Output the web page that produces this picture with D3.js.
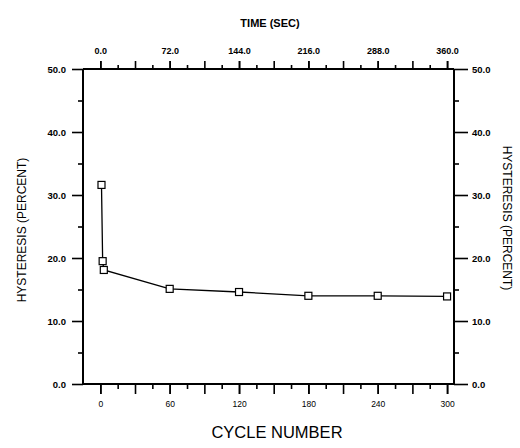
<!DOCTYPE html>
<html><head><meta charset="utf-8">
<script src="https://cdn.jsdelivr.net/npm/d3@7"></script>
<style>body{margin:0;background:#fff}svg{display:block}</style>
</head><body>
<svg id="c" width="520" height="448"></svg>
<script>
// data
const cycles = [1, 2, 3, 60, 120, 180, 240, 300];
const hysteresis = [31.6, 19.5, 18.1, 15.1, 14.6, 14.0, 14.0, 13.9];
const cycleTicks = [0, 60, 120, 180, 240, 300];
const timeTicks = [0, 72, 144, 216, 288, 360];
const yTicks = [0, 10, 20, 30, 40, 50];
const secPerCycle = 1.2;

const svg = d3.select("#c");
const L = 83, R = 454, T = 69, B = 384;
const x = d3.scaleLinear().domain([-15, 306]).range([L, R]);
const xt = d3.scaleLinear().domain([-15 * secPerCycle, 306 * secPerCycle]).range([L, R]);
const y = d3.scaleLinear().domain([0, 50]).range([B, T]);
const font = "'Liberation Sans', Arial, sans-serif";

function styleAxis(g) {
  g.select(".domain").remove();
  g.selectAll("line").attr("stroke", "#000").attr("stroke-width", 1.6);
  g.selectAll("text").attr("font-family", font).attr("font-weight", "bold")
    .attr("font-size", 9).attr("fill", "#000");
}

// frame lines
[[L, R, B, B], [L, R, T, T], [L, L, T, B], [R, R, T, B]].forEach(([x1, x2, y1, y2]) =>
  svg.append("line").attr("x1", x1).attr("x2", x2).attr("y1", y1).attr("y2", y2)
    .attr("stroke", "#000").attr("stroke-width", 2));

// bottom axis: minor every 15, major every 30, labels every 60
svg.append("g").attr("transform", `translate(0,${B})`)
  .call(d3.axisBottom(x).tickValues(d3.range(15, 301, 30)).tickSize(5).tickFormat(""))
  .call(styleAxis);
svg.append("g").attr("transform", `translate(0,${B})`)
  .call(d3.axisBottom(x).tickValues(d3.range(0, 301, 30)).tickSize(10).tickFormat(""))
  .call(styleAxis);
svg.append("g").attr("transform", `translate(0,${B})`)
  .call(d3.axisBottom(x).tickValues(cycleTicks).tickSize(10).tickPadding(7).tickFormat(d3.format("d")))
  .call(styleAxis)
  .call(g => g.selectAll("text").attr("font-weight", "normal").attr("font-size", 8.5));

// top axis (time)
svg.append("g").attr("transform", `translate(0,${T})`)
  .call(d3.axisTop(xt).tickValues(d3.range(18, 361, 36)).tickSize(4).tickFormat(""))
  .call(styleAxis);
svg.append("g").attr("transform", `translate(0,${T})`)
  .call(d3.axisTop(xt).tickValues(d3.range(0, 361, 36)).tickSize(8).tickFormat(""))
  .call(styleAxis);
svg.append("g").attr("transform", `translate(0,${T})`)
  .call(d3.axisTop(xt).tickValues(timeTicks).tickSize(8).tickPadding(7).tickFormat(d3.format(".1f")))
  .call(styleAxis);

// left axis
svg.append("g").attr("transform", `translate(${L},0)`)
  .call(d3.axisLeft(y).tickValues(d3.range(5, 50, 10)).tickSize(5).tickFormat(""))
  .call(styleAxis);
svg.append("g").attr("transform", `translate(${L},0)`)
  .call(d3.axisLeft(y).tickValues(yTicks).tickSize(11).tickPadding(6).tickFormat(d3.format(".1f")))
  .call(styleAxis)
  .call(g => g.selectAll("text").attr("font-size", 9.5));
// right axis
svg.append("g").attr("transform", `translate(${R},0)`)
  .call(d3.axisRight(y).tickValues(d3.range(5, 50, 10)).tickSize(5).tickFormat(""))
  .call(styleAxis);
svg.append("g").attr("transform", `translate(${R},0)`)
  .call(d3.axisRight(y).tickValues(yTicks).tickSize(14).tickPadding(4).tickFormat(d3.format(".1f")))
  .call(styleAxis)
  .call(g => g.selectAll("text").attr("font-size", 9.5));

// series
const pts = cycles.map((c, i) => [c, hysteresis[i]]);
svg.append("path").datum(pts)
  .attr("d", d3.line().x(d => x(d[0])).y(d => y(d[1])))
  .attr("fill", "none").attr("stroke", "#000").attr("stroke-width", 1.3);
svg.selectAll("rect.m").data(pts).join("rect").attr("class", "m")
  .attr("x", d => x(d[0]) - 3.5).attr("y", d => y(d[1]) - 3.5)
  .attr("width", 7).attr("height", 7)
  .attr("fill", "#fff").attr("stroke", "#000").attr("stroke-width", 1.2);

// titles
svg.append("text").attr("x", 270).attr("y", 27).attr("text-anchor", "middle")
  .attr("font-family", font).attr("font-weight", "bold").attr("font-size", 11).text("TIME (SEC)");
svg.append("text").attr("x", 277).attr("y", 438).attr("text-anchor", "middle")
  .attr("font-family", font).attr("font-size", 16.5).text("CYCLE NUMBER");
svg.append("text").attr("transform", "translate(26,230) rotate(-90)").attr("text-anchor", "middle")
  .attr("font-family", font).attr("font-size", 12).text("HYSTERESIS (PERCENT)");
svg.append("text").attr("transform", "translate(503,218) rotate(90)").attr("text-anchor", "middle")
  .attr("font-family", font).attr("font-size", 12).text("HYSTERESIS (PERCENT)");
</script>
</body></html>
